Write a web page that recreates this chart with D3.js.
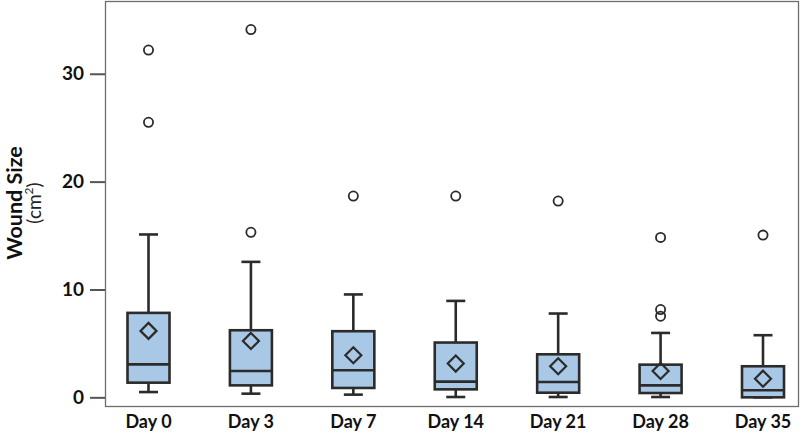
<!DOCTYPE html>
<html><head><meta charset="utf-8">
<script src="https://cdn.jsdelivr.net/npm/d3@7"></script>
<style>body{margin:0;background:#fff}svg{display:block}</style>
</head><body>
<svg id="c" width="800" height="435"></svg>
<script>
const categories = ["Day 0","Day 3","Day 7","Day 14","Day 21","Day 28","Day 35"];
const whiskerLow  = [0.49, 0.34, 0.25, 0.03, 0.03, 0.03, 0.0];
const q1          = [1.36, 1.11, 0.87, 0.74, 0.43, 0.40, 0.0];
const median      = [3.06, 2.44, 2.51, 1.46, 1.42, 1.11, 0.65];
const q3          = [7.83, 6.22, 6.13, 5.08, 3.99, 3.03, 2.88];
const whiskerHigh = [15.1, 12.56, 9.54, 8.94, 7.77, 5.97, 5.76];
const means       = [6.16, 5.23, 3.90, 3.13, 2.88, 2.44, 1.73];
const outliers    = [[32.2, 25.5], [34.1, 15.3], [18.66], [18.66], [18.2], [14.83, 8.14, 7.52], [15.04]];
const yTicks = [0, 10, 20, 30];

const svg = d3.select("#c");
const frame = {left: 105.5, right: 798.5, top: 1.5, bottom: 406.5};
const x = d3.scalePoint().domain(categories).range([148.5, 763]);
const y = d3.scaleLinear().domain([-0.85, 36.7]).range([frame.bottom, frame.top]);

const font = "Lato, 'Open Sans', sans-serif";
const dark = "#2b2b2b";
const boxW = 42, capW = 19;

// frame
svg.append("rect").attr("x", frame.left).attr("y", frame.top)
  .attr("width", frame.right - frame.left).attr("height", frame.bottom - frame.top)
  .attr("fill", "none").attr("stroke", "#6e6e6e").attr("stroke-width", 1.3);

// y axis
const yAxis = d3.axisLeft(y).tickValues(yTicks).tickSize(15).tickPadding(6).tickFormat(d3.format("d"));
const ga = svg.append("g").attr("transform", `translate(${frame.left - 0.5},0)`).call(yAxis);
ga.select(".domain").remove();
ga.selectAll(".tick line").attr("stroke", "#555").attr("stroke-width", 2);
ga.selectAll(".tick text").attr("font-family", font).attr("font-weight", "bold")
  .attr("font-size", 19).attr("fill", "#111");

// x labels
svg.append("g").selectAll("text").data(categories).join("text")
  .attr("x", d => x(d)).attr("y", 428).attr("text-anchor", "middle")
  .attr("font-family", font).attr("font-weight", "bold").attr("font-size", 18)
  .attr("fill", "#111").text(d => d);

// axis title
svg.append("text").attr("transform", "translate(22,203) rotate(-90)")
  .attr("text-anchor", "middle").attr("font-family", font).attr("font-weight", "bold")
  .attr("font-size", 21.5).attr("fill", "#111").text("Wound Size");
const t2 = svg.append("text").attr("transform", "translate(41,203) rotate(-90)")
  .attr("text-anchor", "middle").attr("font-family", font).attr("fill", "#222")
  .style("font-size", "19px");
t2.append("tspan").style("font-size", "19px").text("(cm");
t2.append("tspan").style("font-size", "12px").attr("dy", -8).text("2");
t2.append("tspan").style("font-size", "19px").attr("dy", 8).text(")");

// boxes
const data = categories.map((c, i) => ({c, lo: whiskerLow[i], q1: q1[i], med: median[i], q3: q3[i], hi: whiskerHigh[i], mean: means[i], out: outliers[i]}));
const g = svg.append("g").selectAll("g").data(data).join("g");
const sw = 2.6;
g.append("line").attr("x1", d => x(d.c)).attr("x2", d => x(d.c))
  .attr("y1", d => y(d.q3)).attr("y2", d => y(d.hi)).attr("stroke", dark).attr("stroke-width", sw);
g.append("line").attr("x1", d => x(d.c)).attr("x2", d => x(d.c))
  .attr("y1", d => y(d.q1)).attr("y2", d => y(d.lo)).attr("stroke", dark).attr("stroke-width", sw);
g.append("line").attr("x1", d => x(d.c) - capW/2).attr("x2", d => x(d.c) + capW/2)
  .attr("y1", d => y(d.hi)).attr("y2", d => y(d.hi)).attr("stroke", dark).attr("stroke-width", sw);
g.append("line").attr("x1", d => x(d.c) - capW/2).attr("x2", d => x(d.c) + capW/2)
  .attr("y1", d => y(d.lo)).attr("y2", d => y(d.lo)).attr("stroke", dark).attr("stroke-width", sw);
g.append("rect").attr("x", d => x(d.c) - boxW/2).attr("width", boxW)
  .attr("y", d => y(d.q3)).attr("height", d => y(d.q1) - y(d.q3))
  .attr("fill", "#a9c8e6").attr("stroke", dark).attr("stroke-width", sw);
g.append("line").attr("x1", d => x(d.c) - boxW/2).attr("x2", d => x(d.c) + boxW/2)
  .attr("y1", d => y(d.med)).attr("y2", d => y(d.med)).attr("stroke", dark).attr("stroke-width", sw);
g.append("path").attr("d", d => {
  const cx = x(d.c), cy = y(d.mean), r = 8;
  return `M${cx},${cy - r}L${cx + r},${cy}L${cx},${cy + r}L${cx - r},${cy}Z`;
}).attr("fill", "none").attr("stroke", dark).attr("stroke-width", 2.2);
g.selectAll("circle").data(d => d.out.map(v => ({c: d.c, v}))).join("circle")
  .attr("cx", d => x(d.c)).attr("cy", d => y(d.v)).attr("r", 4.6)
  .attr("fill", "none").attr("stroke", dark).attr("stroke-width", 1.8);
</script>
</body></html>
